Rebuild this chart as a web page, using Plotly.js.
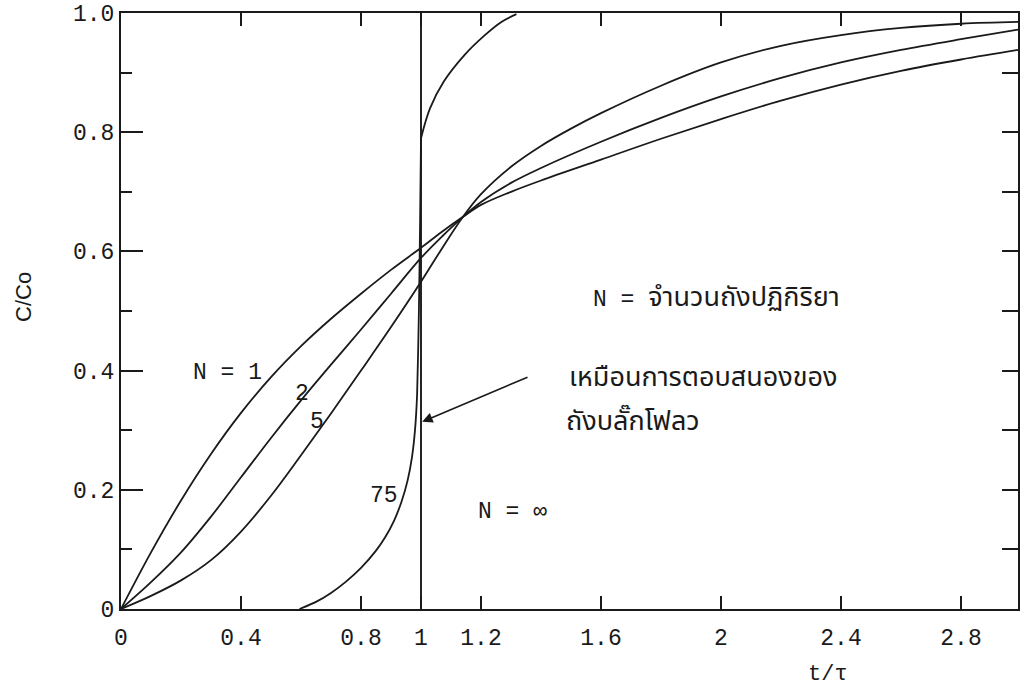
<!DOCTYPE html>
<html><head><meta charset="utf-8">
<script src="https://cdn.plot.ly/plotly-3.0.1.min.js"></script>
<style>html,body{margin:0;padding:0;background:#fff}#chart{width:1024px;height:695px}</style>
</head><body><div id="chart"></div>
<script>
// Tick labels
const xTickVals = [0, 0.4, 0.8, 1, 1.2, 1.6, 2, 2.4, 2.8];
const xTickText = ["0", "0.4", "0.8", "1", "1.2", "1.6", "2", "2.4", "2.8"];
const yTickVals = [0, 0.2, 0.4, 0.6, 0.8, 1.0];
const yTickText = ["0", "0.2", "0.4", "0.6", "0.8", "1.0"];

// Series (t/tau , C/Co)
const n1T = [0, 0.1, 0.2, 0.3, 0.4, 0.5, 0.6, 0.7, 0.8, 0.9, 1.0, 1.07, 1.14, 1.2, 1.3, 1.4, 1.6, 1.8, 2.0, 2.2, 2.4, 2.6, 2.8, 2.99];
const n1C = [0, 0.095, 0.182, 0.26, 0.329, 0.389, 0.441, 0.487, 0.529, 0.569, 0.606, 0.633, 0.658, 0.678, 0.700, 0.719, 0.754, 0.789, 0.822, 0.853, 0.88, 0.903, 0.922, 0.938];

const n2T = [0, 0.1, 0.2, 0.3, 0.4, 0.5, 0.6, 0.7, 0.8, 0.9, 1.0, 1.07, 1.14, 1.2, 1.3, 1.4, 1.6, 1.8, 2.0, 2.2, 2.4, 2.6, 2.8, 2.99];
const n2C = [0, 0.045, 0.095, 0.155, 0.221, 0.287, 0.35, 0.41, 0.469, 0.529, 0.589, 0.625, 0.658, 0.683, 0.715, 0.74, 0.784, 0.824, 0.86, 0.891, 0.917, 0.938, 0.956, 0.972];

const n5T = [0, 0.1, 0.2, 0.3, 0.4, 0.5, 0.6, 0.7, 0.8, 0.9, 1.0, 1.07, 1.14, 1.2, 1.3, 1.4, 1.5, 1.6, 1.8, 2.0, 2.2, 2.4, 2.6, 2.8, 2.99];
const n5C = [0, 0.022, 0.048, 0.082, 0.13, 0.19, 0.258, 0.328, 0.4, 0.473, 0.549, 0.605, 0.658, 0.696, 0.742, 0.777, 0.806, 0.832, 0.878, 0.917, 0.945, 0.963, 0.975, 0.982, 0.985];

const n75LowT = [0.595, 0.65, 0.7, 0.75, 0.8, 0.85, 0.88, 0.91, 0.935, 0.955, 0.97, 0.98, 0.987, 0.993, 0.997, 1.0];
const n75LowC = [0, 0.012, 0.027, 0.046, 0.069, 0.098, 0.12, 0.148, 0.18, 0.215, 0.255, 0.3, 0.36, 0.5, 0.65, 0.79];
const n75UpT = [1.0, 1.03, 1.076, 1.144, 1.211, 1.268, 1.318];
const n75UpC = [0.79, 0.84, 0.885, 0.929, 0.962, 0.985, 0.998];

const nInfT = [1, 1];
const nInfC = [0, 1];

const ink = '#1a1a1a';
const line = {color: ink, width: 1.8, shape: 'spline', smoothing: 1};
const mono = 'Liberation Mono, Courier New, monospace';
const thai = 'Noto Sans Thai, Noto Serif Thai, Loma, Garuda, Norasi, Tlwg Typo, Kinnari, sans-serif';

const traces = [
  {x: n1T, y: n1C, mode: 'lines', line: line, name: 'N = 1'},
  {x: n2T, y: n2C, mode: 'lines', line: line, name: 'N = 2'},
  {x: n5T, y: n5C, mode: 'lines', line: line, name: 'N = 5'},
  {x: n75LowT, y: n75LowC, mode: 'lines', line: {color: ink, width: 1.8, shape: 'spline', smoothing: 0.6}, name: 'N = 75'},
  {x: n75UpT, y: n75UpC, mode: 'lines', line: line, name: 'N = 75 (upper)'},
  {x: nInfT, y: nInfC, mode: 'lines', line: {color: ink, width: 1.9}, name: 'N = ∞', yaxis: 'y2'}
];

const layout = {
  width: 1024, height: 695,
  margin: {l: 121, r: 6, t: 13, b: 86},
  paper_bgcolor: '#ffffff', plot_bgcolor: '#ffffff',
  showlegend: false,
  font: {family: mono, color: ink, size: 22},
  xaxis: {
    range: [0, 2.99], showgrid: false, zeroline: false,
    showline: true, linecolor: ink, linewidth: 2, mirror: 'ticks',
    ticks: 'inside', ticklen: 13, tickwidth: 2, tickcolor: ink,
    tickmode: 'array', tickvals: xTickVals, ticktext: xTickText,
    tickfont: {family: mono, size: 23, color: ink},
    ticklabelstandoff: 6
  },
  yaxis: {
    range: [0, 1], showgrid: false, zeroline: false,
    showline: true, linecolor: ink, linewidth: 2,
    ticks: 'inside', ticklen: 22, tickwidth: 2, tickcolor: ink,
    tickmode: 'array', tickvals: yTickVals, ticktext: yTickText,
    tickfont: {family: mono, size: 23, color: ink},
    ticklabelstandoff: 0,
    minor: {ticks: 'inside', ticklen: 11, tickwidth: 2, tickcolor: ink, dtick: 0.1, tick0: 0, showgrid: false}
  },
  yaxis2: {
    overlaying: 'y', side: 'right', range: [0, 1],
    showgrid: false, zeroline: false, showline: true, linecolor: ink, linewidth: 2,
    ticks: 'inside', ticklen: 16, tickwidth: 2, tickcolor: ink,
    dtick: 0.1, tick0: 0, showticklabels: false
  },
  annotations: [
    {x: 0.355, y: 0.396, text: 'N = 1', showarrow: false, font: {family: mono, size: 23, color: ink}},
    {x: 0.604, y: 0.361, text: '2', showarrow: false, font: {family: mono, size: 23, color: ink}},
    {x: 0.653, y: 0.314, text: '5', showarrow: false, font: {family: mono, size: 23, color: ink}},
    {x: 0.878, y: 0.189, text: '75', showarrow: false, font: {family: mono, size: 23, color: ink}},
    {x: 1.305, y: 0.163, text: 'N = ∞', showarrow: false, font: {family: mono, size: 23, color: ink}},
    {x: 1.565, y: 0.523, xanchor: 'left', yanchor: 'middle', showarrow: false,
     text: '<span style="font-family:Liberation Mono,monospace;font-size:23px">N = </span>จำนวนถังปฏิกิริยา',
     font: {family: thai, size: 27, color: ink}},
    {x: 1.485, y: 0.388, xanchor: 'left', yanchor: 'middle', text: 'เหมือนการตอบสนองของ', showarrow: false, font: {family: thai, size: 27, color: ink}},
    {x: 1.476, y: 0.314, xanchor: 'left', yanchor: 'middle', text: 'ถังบลั๊กโฟลว', showarrow: false, font: {family: thai, size: 27, color: ink}},
    {x: 1.004, y: 0.314, ax: 1.36, ay: 0.39, axref: 'x', ayref: 'y', text: '', showarrow: true,
     arrowhead: 2, arrowsize: 1.3, arrowwidth: 1.6, arrowcolor: ink},
    {xref: 'paper', yref: 'paper', x: (828 - 121) / 897, y: (609 - 675) / 596, xanchor: 'center', yanchor: 'middle',
     text: 't/τ', showarrow: false, font: {family: mono, size: 22, color: ink}},
    {xref: 'paper', yref: 'paper', x: (23 - 121) / 897, y: (609 - 297) / 596, xanchor: 'center', yanchor: 'middle',
     text: 'C/Co', textangle: -90, showarrow: false, font: {family: 'Liberation Sans, Arial, sans-serif', size: 22, color: ink}}
  ]
};

Plotly.newPlot('chart', traces, layout, {displayModeBar: false, staticPlot: true});
</script>
</body></html>
